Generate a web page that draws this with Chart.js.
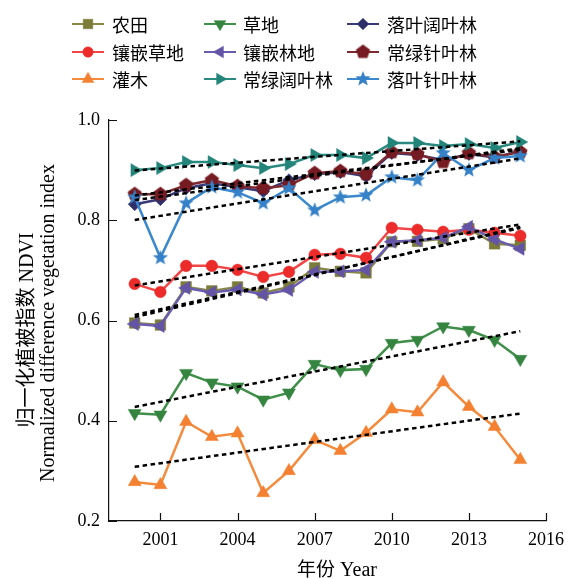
<!DOCTYPE html>
<html>
<head>
<meta charset="utf-8">
<script src="https://cdn.jsdelivr.net/npm/chart.js@4.4.1/dist/chart.umd.min.js"></script>
<style>
  html, body { margin: 0; padding: 0; background: #fff; }
  #wrap { width: 576px; height: 579px; }
</style>
</head>
<body>
<div id="wrap"><canvas id="c" width="576" height="579"></canvas></div>
<script>
// NDVI by land-cover type, 2000–2015
const years = [2000, 2001, 2002, 2003, 2004, 2005, 2006, 2007, 2008, 2009, 2010, 2011, 2012, 2013, 2014, 2015];

const farmland        = [0.595, 0.591, 0.667, 0.659, 0.667, 0.655, 0.667, 0.705, 0.698, 0.695, 0.757, 0.758, 0.763, 0.783, 0.753, 0.750];
const grassland       = [0.415, 0.412, 0.495, 0.476, 0.468, 0.442, 0.456, 0.513, 0.501, 0.503, 0.555, 0.561, 0.588, 0.581, 0.561, 0.523];
const deciduousBroad  = [0.832, 0.842, 0.864, 0.874, 0.866, 0.858, 0.880, 0.892, 0.896, 0.888, 0.934, 0.930, 0.920, 0.932, 0.925, 0.938];
const mosaicGrass     = [0.673, 0.657, 0.709, 0.709, 0.701, 0.687, 0.697, 0.731, 0.733, 0.725, 0.785, 0.781, 0.777, 0.781, 0.775, 0.769];
const mosaicWood      = [0.593, 0.589, 0.665, 0.656, 0.662, 0.652, 0.661, 0.697, 0.698, 0.701, 0.757, 0.760, 0.765, 0.787, 0.762, 0.743];
const evergreenNeedle = [0.852, 0.852, 0.870, 0.880, 0.868, 0.864, 0.870, 0.894, 0.898, 0.892, 0.936, 0.932, 0.916, 0.934, 0.926, 0.936];
const shrub           = [0.278, 0.272, 0.398, 0.368, 0.375, 0.256, 0.300, 0.362, 0.340, 0.376, 0.423, 0.417, 0.477, 0.428, 0.388, 0.322];
const evergreenBroad  = [0.900, 0.904, 0.916, 0.916, 0.910, 0.904, 0.912, 0.930, 0.930, 0.924, 0.954, 0.954, 0.948, 0.952, 0.944, 0.956];
const deciduousNeedle = [0.846, 0.725, 0.834, 0.866, 0.856, 0.834, 0.864, 0.820, 0.846, 0.850, 0.886, 0.880, 0.934, 0.900, 0.924, 0.928];

const labels = ['农田', '草地', '落叶阔叶林', '镶嵌草地', '镶嵌林地', '常绿针叶林', '灌木', '常绿阔叶林', '落叶针叶林'];

const xTicks = [2001, 2004, 2007, 2010, 2013, 2016];
const yTicks = [0.2, 0.4, 0.6, 0.8, 1.0];

// ---- custom marker shapes (filled star and pentagon) ----
function polygonMarker(points, outer, inner, color) {
  const size = Math.ceil(outer * 2 + 2);
  const cv = document.createElement('canvas');
  cv.width = size; cv.height = size;
  const g = cv.getContext('2d');
  const c = size / 2;
  g.beginPath();
  const n = inner ? points * 2 : points;
  for (let i = 0; i < n; i++) {
    const r = inner ? (i % 2 === 0 ? outer : inner) : outer;
    const a = -Math.PI / 2 + i * 2 * Math.PI / n;
    const px = c + r * Math.cos(a), py = c + r * Math.sin(a);
    if (i === 0) g.moveTo(px, py); else g.lineTo(px, py);
  }
  g.closePath();
  g.fillStyle = color;
  g.fill();
  return cv;
}

const starMarker = polygonMarker(5, 8, 3.4, '#3581c8');
const pentagonMarker = polygonMarker(5, 7.5, 0, '#761b22');

// series look: marker colour, line colour, point style
const looks = [
  { data: farmland,        color: '#7b7b3a', line: '#87874a', style: 'rect',     rot: 0,   r: 7.5 },
  { data: grassland,       color: '#358540', line: '#3f8f4a', style: 'triangle', rot: 180, r: 7.5 },
  { data: deciduousBroad,  color: '#2f2f6b', line: '#3a3a78', style: 'rectRot',  rot: 0,   r: 6.5 },
  { data: mosaicGrass,     color: '#ec2b2b', line: '#f04646', style: 'circle',   rot: 0,   r: 5.8 },
  { data: mosaicWood,      color: '#6454a6', line: '#6a5cae', style: 'triangle', rot: -90, r: 7.5 },
  { data: evergreenNeedle, color: '#761b22', line: '#7f2a30', style: pentagonMarker, rot: 0, r: 7 },
  { data: shrub,           color: '#f38131', line: '#f48a3c', style: 'triangle', rot: 0,   r: 7.5 },
  { data: evergreenBroad,  color: '#23847a', line: '#2a8a80', style: 'triangle', rot: 90,  r: 7.5 },
  { data: deciduousNeedle, color: '#3581c8', line: '#3b88cc', style: starMarker, rot: 0,   r: 8 }
];

// least-squares trend for each series, drawn between the first and last year
function trend(values) {
  const n = years.length;
  const mx = years.reduce((a, b) => a + b, 0) / n;
  const my = values.reduce((a, b) => a + b, 0) / n;
  let sxy = 0, sxx = 0;
  for (let i = 0; i < n; i++) {
    sxy += (years[i] - mx) * (values[i] - my);
    sxx += (years[i] - mx) * (years[i] - mx);
  }
  const k = sxy / sxx;
  const x0 = years[0], x1 = years[n - 1];
  return [{ x: x0, y: my + k * (x0 - mx) }, { x: x1, y: my + k * (x1 - mx) }];
}

const datasets = [];
looks.forEach((s, i) => {
  datasets.push({
    label: labels[i],
    data: years.map((y, j) => ({ x: y, y: s.data[j] })),
    borderColor: s.line,
    backgroundColor: s.color,
    pointBackgroundColor: s.color,
    pointBorderColor: s.color,
    pointBorderWidth: 0.5,
    pointStyle: s.style,
    pointRotation: s.rot,
    pointRadius: s.r,
    borderWidth: 2.5,
    tension: 0,
    order: 20 - i
  });
});
looks.forEach((s, i) => {
  datasets.push({
    label: labels[i] + ' 趋势',
    data: trend(s.data),
    borderColor: '#000',
    borderWidth: 2.5,
    borderDash: [4.5, 3.5],
    pointRadius: 0,
    tension: 0,
    order: 1
  });
});

const SERIF = "'Liberation Serif', 'Times New Roman', serif";
const CJK = "'Noto Sans CJK SC', sans-serif";

// draw a run of text made of several font segments, centred on (cx, cy)
function drawRun(ctx, segs, cx, cy) {
  let total = 0;
  segs.forEach(s => { ctx.font = s.font; s.w = ctx.measureText(s.text).width; total += s.w; });
  let x = cx - total / 2;
  ctx.textAlign = 'left';
  ctx.textBaseline = 'alphabetic';
  segs.forEach(s => { ctx.font = s.font; ctx.fillText(s.text, x, cy + 7); x += s.w; });
}

const decorations = {
  id: 'decorations',
  afterDraw(chart) {
    const ctx = chart.ctx;
    const xs = chart.scales.x, ys = chart.scales.y;
    ctx.save();

    // inward tick marks
    ctx.strokeStyle = '#111';
    ctx.lineWidth = 1.2;
    ctx.beginPath();
    xTicks.forEach(v => {
      const px = Math.round(xs.getPixelForValue(v)) + 0.5;
      ctx.moveTo(px, ys.bottom);
      ctx.lineTo(px, ys.bottom - 8);
    });
    yTicks.forEach(v => {
      const py = Math.round(ys.getPixelForValue(v)) + 0.5;
      ctx.moveTo(xs.left, py);
      ctx.lineTo(xs.left + 8, py);
    });
    ctx.stroke();

    // legend: 3 columns x 3 rows
    const colLine = [72, 204, 347];
    const colText = [112, 243, 387];
    const rowY = [24, 52, 79];
    looks.forEach((s, i) => {
      const row = Math.floor(i / 3), col = i % 3;
      const y = rowY[row];
      const x0 = colLine[col], x1 = x0 + 32;
      ctx.strokeStyle = s.line;
      ctx.lineWidth = 2;
      ctx.setLineDash([]);
      ctx.beginPath();
      ctx.moveTo(x0, y); ctx.lineTo(x1, y);
      ctx.stroke();
      ctx.fillStyle = s.color;
      ctx.strokeStyle = s.color;
      ctx.lineWidth = 0.5;
      Chart.helpers.drawPoint(ctx, { pointStyle: s.style, rotation: s.rot, radius: s.r * 0.9, borderWidth: 0.5 }, (x0 + x1) / 2, y);
      ctx.fillStyle = '#000';
      ctx.font = '18px ' + CJK;
      ctx.textAlign = 'left';
      ctx.textBaseline = 'middle';
      ctx.fillText(labels[i], colText[col], y + 1);
    });

    // axis titles
    ctx.fillStyle = '#000';
    drawRun(ctx, [{ text: '年份', font: '19px ' + CJK }, { text: ' Year', font: '20px ' + SERIF }], 337, 569);

    ctx.save();
    ctx.translate(26, 330);
    ctx.rotate(-Math.PI / 2);
    drawRun(ctx, [{ text: '归一化植被指数', font: '20px ' + CJK }, { text: ' NDVI', font: '20px ' + SERIF }], 0, 0);
    ctx.restore();

    ctx.save();
    ctx.translate(47, 323);
    ctx.rotate(-Math.PI / 2);
    drawRun(ctx, [{ text: 'Normalized difference vegetation index', font: '20px ' + SERIF }], 0, 0);
    ctx.restore();

    ctx.restore();
  }
};

new Chart(document.getElementById('c'), {
  type: 'line',
  data: { datasets },
  options: {
    responsive: false,
    animation: false,
    devicePixelRatio: 1,
    layout: { padding: { top: 120, right: 30, left: 0, bottom: 0 } },
    plugins: { legend: { display: false }, tooltip: { enabled: false } },
    scales: {
      x: {
        type: 'linear',
        min: 1999,
        max: 2016,
        afterBuildTicks: s => { s.ticks = xTicks.map(v => ({ value: v })); },
        afterFit: s => { s.height = 58; },
        ticks: {
          autoSkip: false, maxRotation: 0, padding: 8, color: '#000',
          font: { family: SERIF, size: 18 },
          callback: v => String(v)
        },
        grid: { display: true, drawOnChartArea: false, drawTicks: false },
        border: { display: true, color: '#111', width: 1.2 }
      },
      y: {
        type: 'linear',
        min: 0.2,
        max: 1.0,
        afterBuildTicks: s => { s.ticks = yTicks.map(v => ({ value: v })); },
        afterFit: s => { s.width = 109; },
        ticks: {
          autoSkip: false, padding: 9, color: '#000',
          font: { family: SERIF, size: 18 },
          callback: v => Number(v).toFixed(1)
        },
        grid: { display: true, drawOnChartArea: false, drawTicks: false },
        border: { display: true, color: '#111', width: 1.2 }
      }
    }
  },
  plugins: [decorations]
});
</script>
</body>
</html>
